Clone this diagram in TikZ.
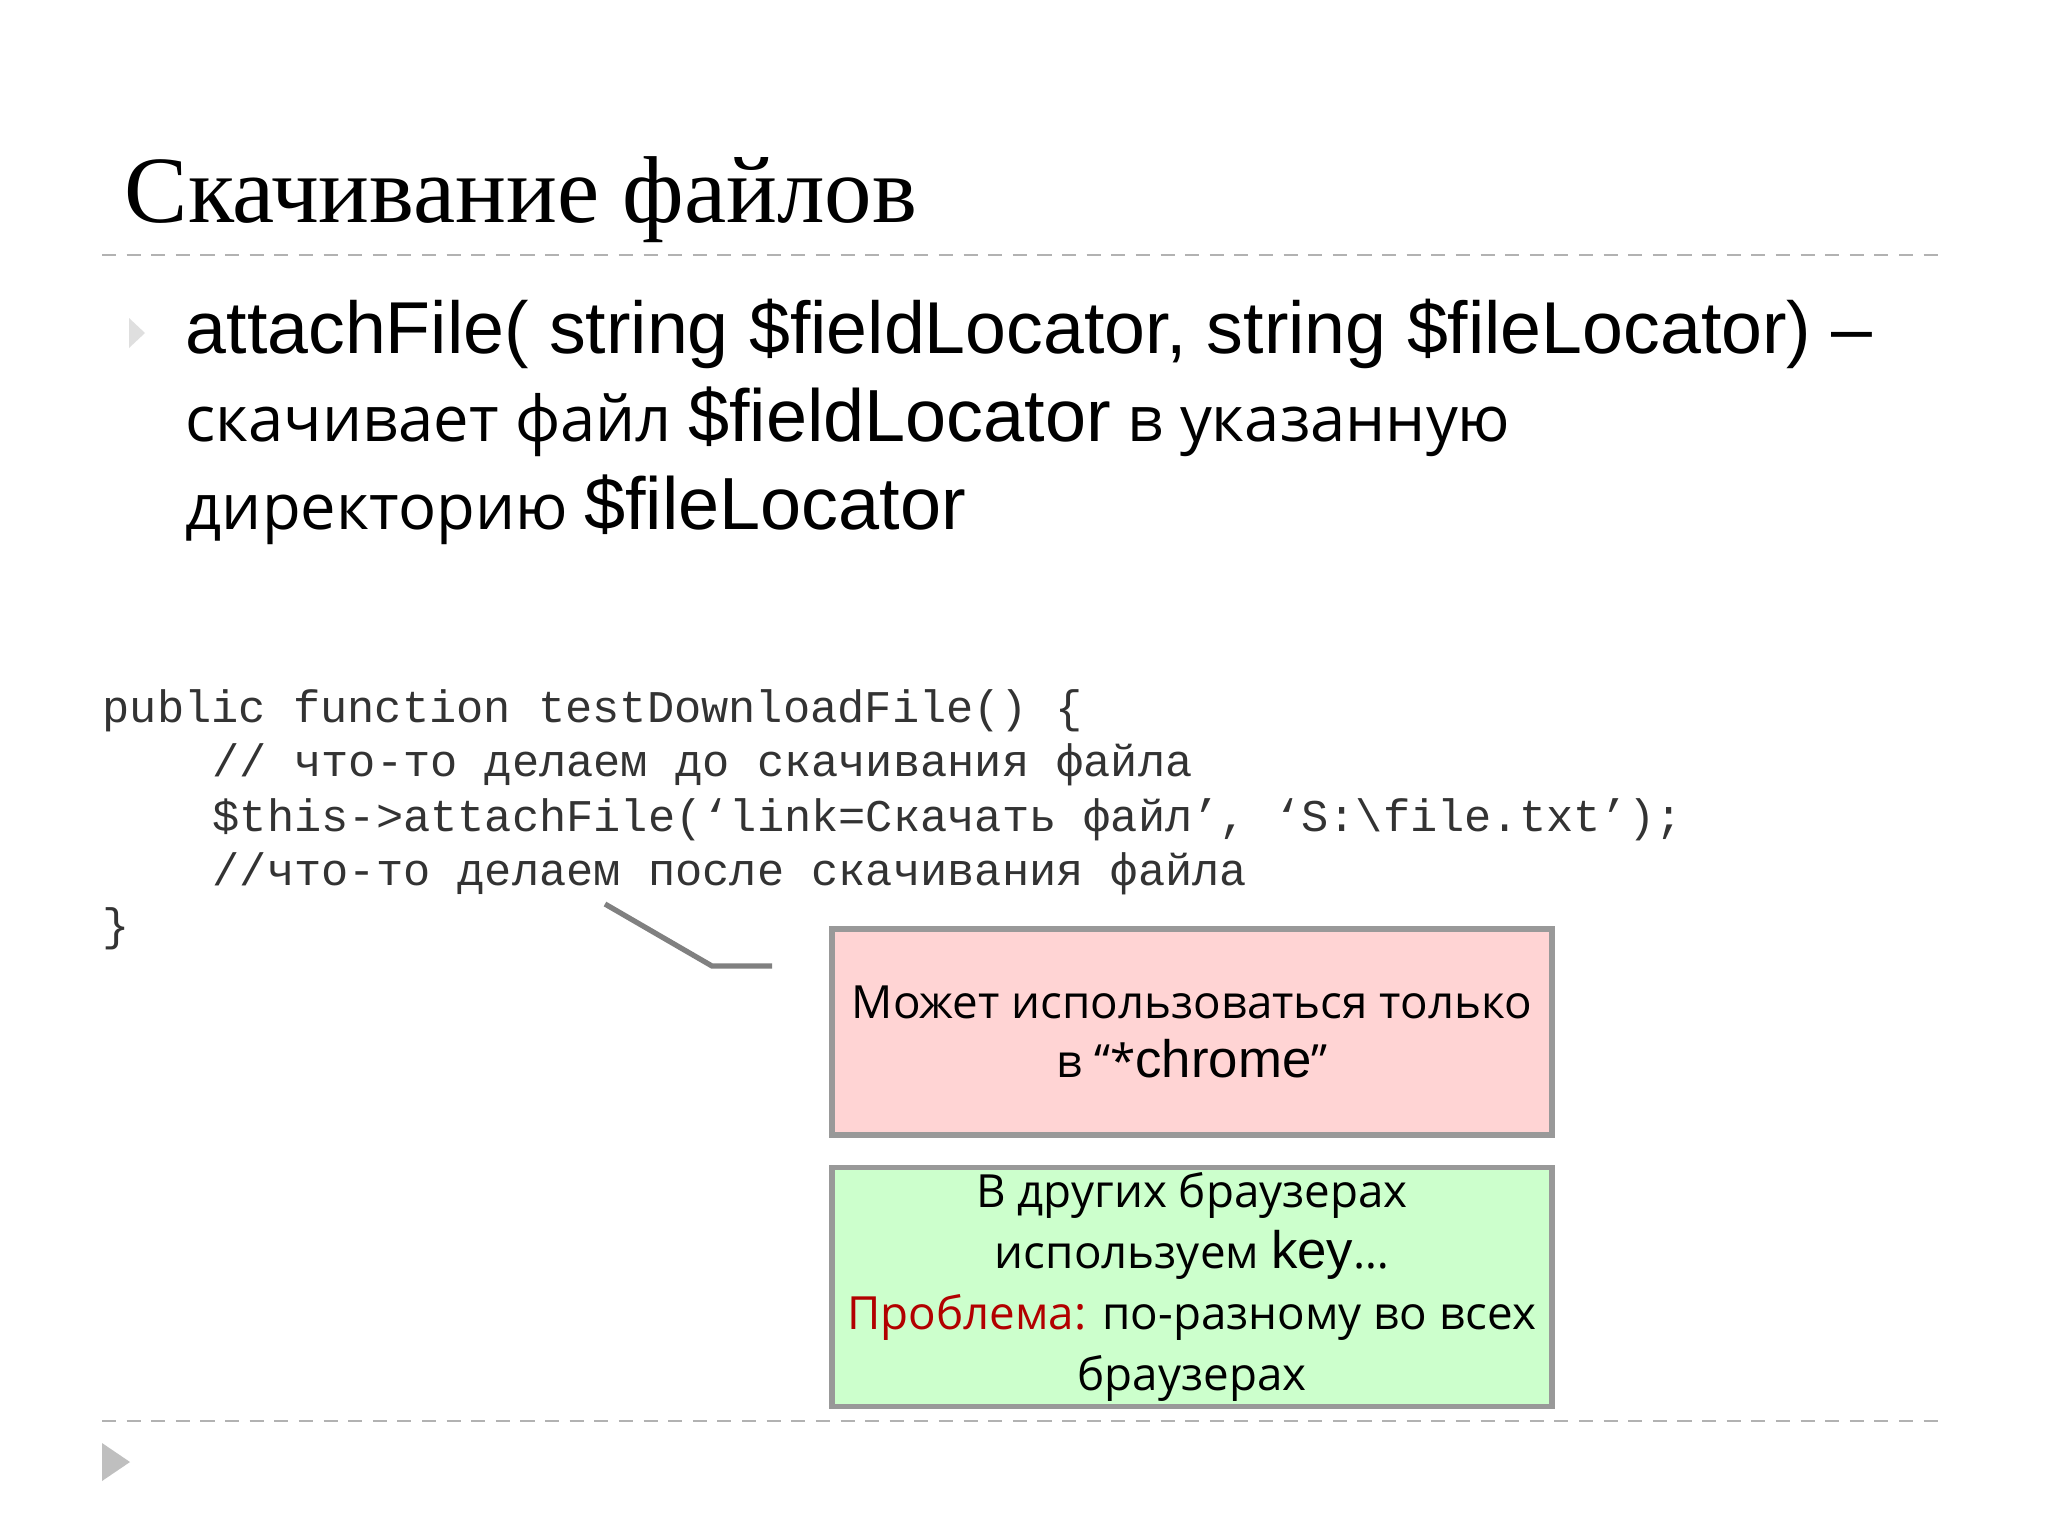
\documentclass[tikz,border=0pt]{standalone}
\usepackage{fontspec}
\setmainfont{Liberation Serif}
\newfontfamily\osans{Open Sans}
\newfontfamily\arial{Liberation Sans}
\newfontfamily\mono{Liberation Mono}
\begin{document}
\begin{tikzpicture}[x=0.01cm,y=-0.01cm,
  sepline/.style={gray!60,dash pattern=on 4pt off 3pt,line width=0.8pt},
  code/.style={anchor=base west,inner sep=0,font=\mono\fontsize{12.9}{15}\selectfont,text=black!80},
  box/.style={draw=gray!80,line width=1.6pt,inner sep=0,align=center,minimum width=7.2cm}]
\useasboundingbox (0,0) rectangle (2048,1536);
\fill[white] (0,0) rectangle (2048,1536);
\node[anchor=base west,inner sep=0,font=\fontsize{27}{30}\selectfont] (title) at (124,222) {Скачивание файлов};
\draw[sepline] (102,255) -- (1946,255);
\draw[sepline] (102,1421) -- (1946,1421);
\fill[gray!25] (129,318) -- (145,333) -- (129,348) -- cycle;
\fill[gray!50] (102,1443) -- (130,1462) -- (102,1481) -- cycle;
\node[anchor=base west,inner sep=0,font=\arial\fontsize{20.9}{24}\selectfont] (l1) at (185,353) {attachFile( string \$fieldLocator, string \$fileLocator) –};
\node[anchor=base west,inner sep=0,font=\osans\fontsize{18}{20}\selectfont] (l2) at (185,441) {скачивает файл {\arial\fontsize{21}{24}\selectfont \$fieldLocator} в указанную};
\node[anchor=base west,inner sep=0,font=\osans\fontsize{18}{20}\selectfont] (l3) at (185,529) {директорию {\arial\fontsize{21}{24}\selectfont \$fileLocator}};
\node[code] (c1) at (102,722) {public function testDownloadFile() \{};
\node[code] (c2) at (212,776) {// что-то делаем до скачивания файла};
\node[code] (c3) at (212,831) {\$this->attachFile(‘link=Скачать файл’, ‘S:\textbackslash file.txt’);};
\node[code] (c4) at (212,885) {//что-то делаем после скачивания файла};
\node[code] (c5) at (102,940) {\}};
\node[box,fill=red!17,minimum height=2.06cm,font=\osans\fontsize{13}{17}\selectfont] (pink) at (1192,1032) {Может использоваться только\\в “*{\arial\fontsize{15}{17}\selectfont chrome}”};
\node[box,fill=green!20,minimum height=2.39cm,font=\osans\fontsize{13}{17.4}\selectfont] (green) at (1192,1287) {В других браузерах\\используем {\arial\fontsize{15}{17}\selectfont key}…\\{\color{red!70!black}Проблема:} по-разному во всех\\браузерах};
\coordinate (k1) at (712,966);
\coordinate (k2) at (772,966);
\draw[gray,line width=1.5pt] (605,904) -- (k1) -- (k2);
\end{tikzpicture}
\end{document}
